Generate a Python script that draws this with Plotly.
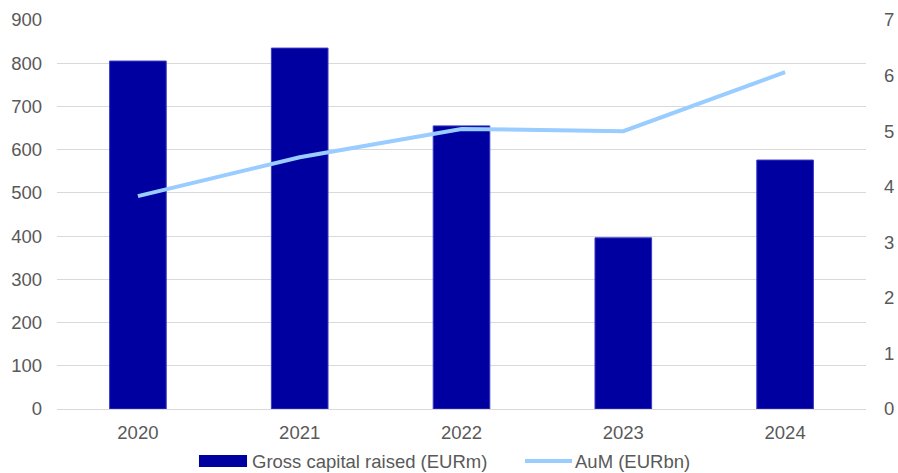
import plotly.graph_objects as go

years = ["2020", "2021", "2022", "2023", "2024"]
gross_capital = [805, 835, 655, 396, 576]
aum = [3.83, 4.53, 5.04, 5.00, 6.06]

BAR_NAME = "Gross capital raised (EURm)"
LINE_NAME = "AuM (EURbn)"
BAR_COLOR = "#0000A0"
LINE_COLOR = "#99CCFF"
TEXT_COLOR = "#595959"

fig = go.Figure()
fig.add_trace(go.Bar(
    x=years, y=gross_capital, name=BAR_NAME,
    marker=dict(color=BAR_COLOR, line=dict(color="#3a3ac8", width=1)),
    width=0.35, yaxis="y",
))
fig.add_trace(go.Scatter(
    x=years, y=aum, name=LINE_NAME, mode="lines",
    line=dict(color=LINE_COLOR, width=4), yaxis="y2",
))

font = dict(family="Liberation Sans, Arial, sans-serif", size=18.5, color=TEXT_COLOR)

# legend below the plot, laid out in paper coordinates
legend_shapes = [
    dict(type="rect", xref="paper", yref="paper", x0=0.1755, x1=0.2349,
         y0=-0.1491, y1=-0.1183, fillcolor=BAR_COLOR, line=dict(width=0)),
    dict(type="line", xref="paper", yref="paper", x0=0.5785, x1=0.6366,
         y0=-0.1337, y1=-0.1337, line=dict(color=LINE_COLOR, width=4)),
]
legend_labels = [
    dict(text=BAR_NAME, xref="paper", yref="paper", x=0.2385, y=-0.1337,
         xanchor="left", yanchor="middle", showarrow=False, font=font),
    dict(text=LINE_NAME, xref="paper", yref="paper", x=0.6380, y=-0.1337,
         xanchor="left", yanchor="middle", showarrow=False, font=font),
]

fig.update_layout(
    width=898, height=473,
    margin=dict(l=57, r=32, t=20, b=64),
    plot_bgcolor="white", paper_bgcolor="white",
    font=font,
    showlegend=False,
    xaxis=dict(showgrid=False, ticks="", showline=True, linecolor="#d9d9d9", linewidth=1,
               ticklabelstandoff=7, automargin=False),
    yaxis=dict(range=[0, 900], dtick=100, showgrid=True, gridcolor="#d9d9d9",
               zeroline=False, ticks="", ticklabelstandoff=14, automargin=False),
    yaxis2=dict(range=[0, 7], dtick=1, overlaying="y", side="right", showgrid=False,
                zeroline=False, ticks="", ticklabelstandoff=17, automargin=False),
    shapes=legend_shapes,
    annotations=legend_labels,
)
fig.write_html("out.html")
